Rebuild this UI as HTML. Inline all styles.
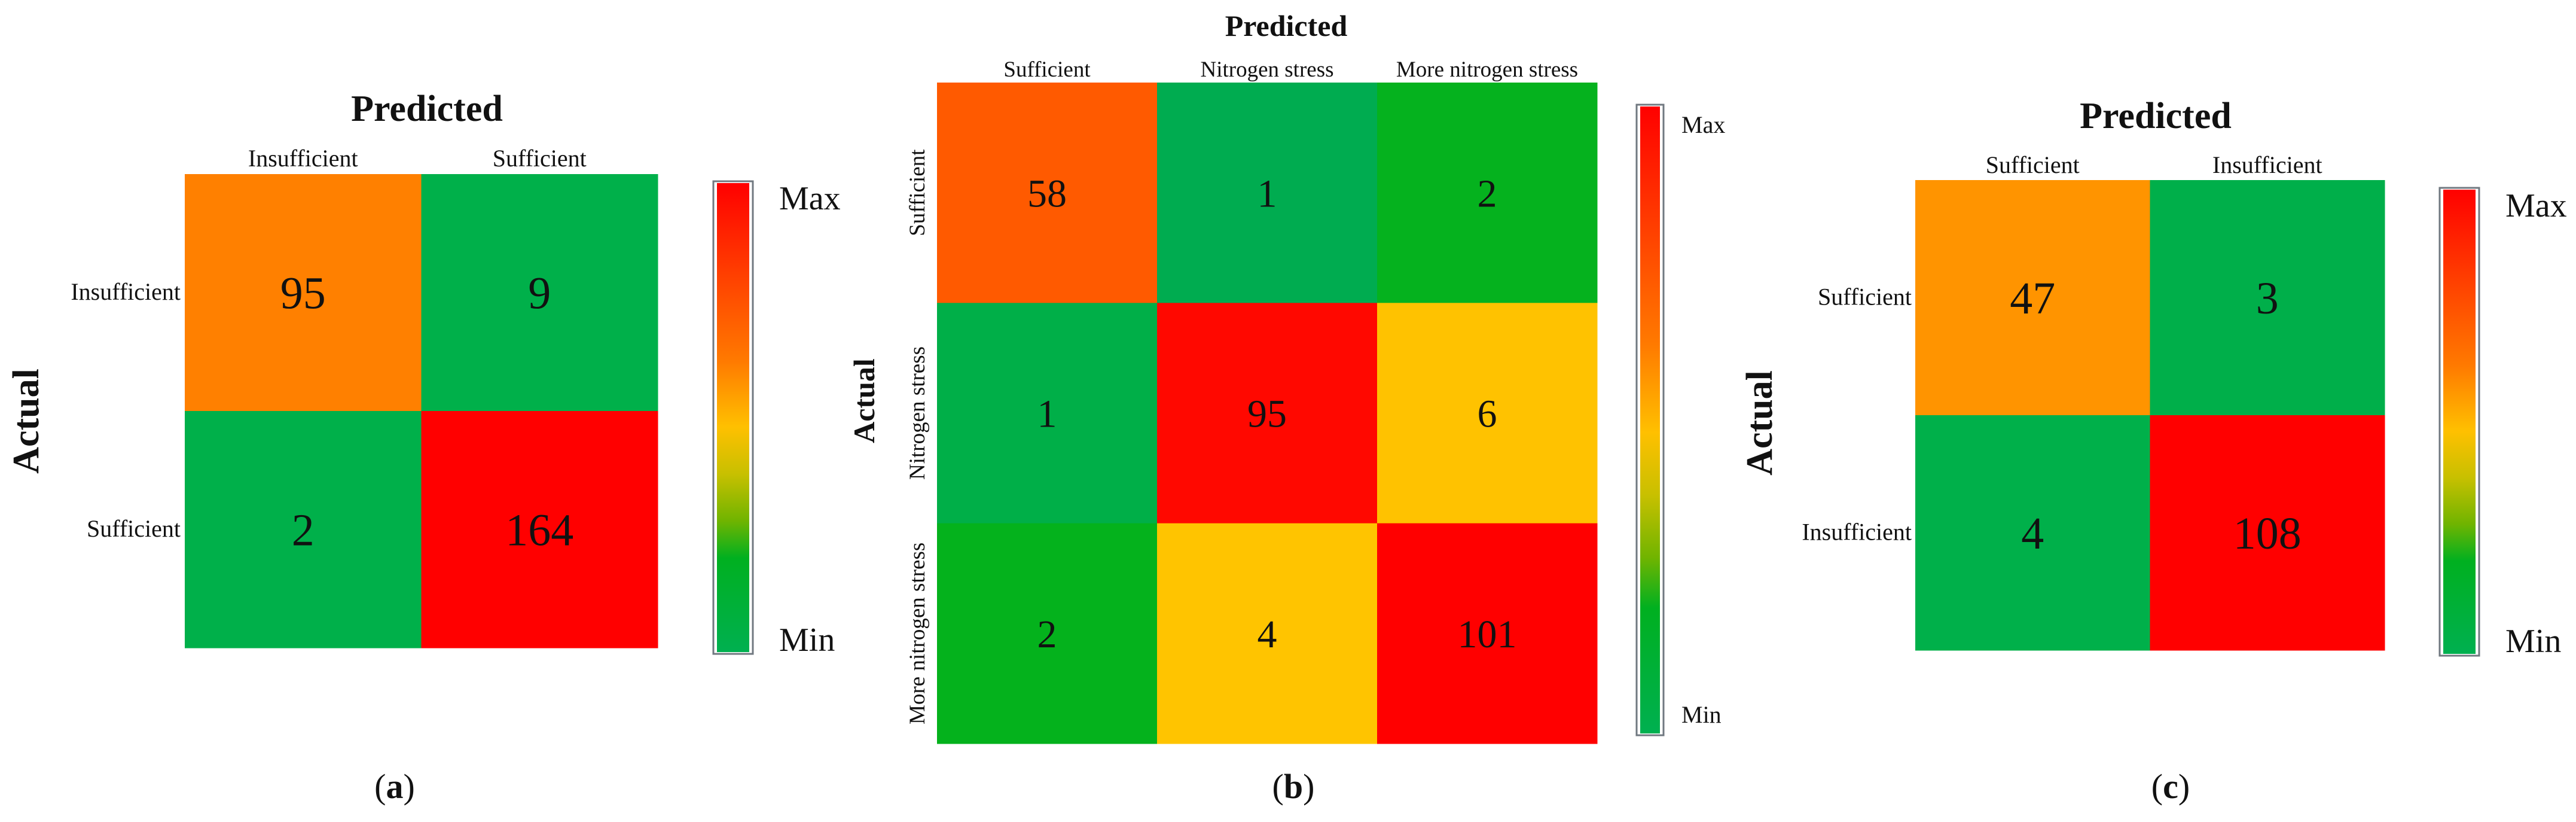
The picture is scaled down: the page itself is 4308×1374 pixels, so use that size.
<!DOCTYPE html>
<html><head><meta charset="utf-8"><style>
html,body{margin:0;padding:0;background:#fff;}
svg{display:block;font-family:"Liberation Serif",serif;}
</style></head><body>
<svg id="fig" width="4308" height="1374" viewBox="0 0 4308 1374" xmlns="http://www.w3.org/2000/svg">
<defs>
<linearGradient id="cbar" x1="0" y1="0" x2="0" y2="1">
<stop offset="0" stop-color="#ff0000"/>
<stop offset="0.18" stop-color="#ff3a00"/>
<stop offset="0.38" stop-color="#ff7a00"/>
<stop offset="0.52" stop-color="#ffc000"/>
<stop offset="0.62" stop-color="#c8c000"/>
<stop offset="0.72" stop-color="#70b400"/>
<stop offset="0.8" stop-color="#00b020"/>
<stop offset="1" stop-color="#00b050"/>
</linearGradient>
</defs>
</svg>
<script>
// Panel (a)
const aCats = ["Insufficient", "Sufficient"];
const aValues = [[95, 9], [2, 164]];
const aColors = [["#ff8000", "#00b04a"], ["#00b04a", "#ff0000"]];
// Panel (b)
const bCats = ["Sufficient", "Nitrogen stress", "More nitrogen stress"];
const bValues = [[58, 1, 2], [1, 95, 6], [2, 4, 101]];
const bColors = [["#ff5a00", "#00ac50", "#05b21e"], ["#00af48", "#ff0800", "#ffc200"], ["#04b21c", "#ffc400", "#ff0000"]];
// Panel (c)
const cCats = ["Sufficient", "Insufficient"];
const cValues = [[47, 3], [4, 108]];
const cColors = [["#ff9400", "#00af4a"], ["#00b04a", "#ff0000"]];

const NS = "http://www.w3.org/2000/svg";
const svg = document.getElementById("fig");
function mk(tag, attrs, parent, text) {
  const e = document.createElementNS(NS, tag);
  for (const k in attrs) e.setAttribute(k, attrs[k]);
  if (text !== undefined) e.textContent = text;
  (parent || svg).appendChild(e);
  return e;
}

function panel(cfg) {
  const g = mk("g", {});
  
  
  const n = cfg.cats.length;
  const cw = (cfg.x1 - cfg.x0) / n, ch = (cfg.y1 - cfg.y0) / n;
  const xAt = i => cfg.x0 + i * cw;
  const yAt = i => cfg.y0 + i * ch;
  for (let r = 0; r < n; r++) {
    for (let c = 0; c < n; c++) {
      const rect = mk("rect", {x: xAt(c), y: yAt(r), width: cw + 0.5, height: ch + 0.5, fill: cfg.colors[r][c]}, g);
      
      
      const t = mk("text", {x: xAt(c) + cw / 2, y: yAt(r) + ch / 2 + cfg.numSize * 0.35, "text-anchor": "middle", "font-size": cfg.numSize, fill: "#111"}, g, String(cfg.values[r][c]));
      
      
    }
  }
  for (let c = 0; c < n; c++) {
    const t = mk("text", {x: xAt(c) + cw / 2, y: cfg.colLabelY, "text-anchor": "middle", "font-size": cfg.labSize, fill: "#111"}, g, cfg.cats[c]);
    
    
  }
  for (let r = 0; r < n; r++) {
    let t;
    if (cfg.rotRows) {
      const cx = cfg.rowLabelX, cy = yAt(r) + ch / 2;
      t = mk("text", {x: cx, y: cy, "text-anchor": "middle", "font-size": cfg.labSize, fill: "#111", transform: "rotate(-90 " + cx + " " + cy + ")"}, g, cfg.cats[r]);
    } else {
      t = mk("text", {x: cfg.rowLabelX, y: yAt(r) + ch / 2 + cfg.labSize * 0.3, "text-anchor": "end", "font-size": cfg.labSize, fill: "#111"}, g, cfg.cats[r]);
    }
    
    
  }
  const p = mk("text", {x: cfg.predX, y: cfg.predY, "text-anchor": "middle", "font-size": cfg.titleSize, "font-weight": "bold", fill: "#111"}, g, "Predicted");
  
  
  const a = mk("text", {x: cfg.actX, y: cfg.actY, "text-anchor": "middle", "font-size": cfg.titleSize, "font-weight": "bold", fill: "#111", transform: "rotate(-90 " + cfg.actX + " " + cfg.actY + ")"}, g, "Actual");
  
  
  const cb = mk("rect", {x: cfg.cbX0, y: cfg.cbY0, width: cfg.cbX1 - cfg.cbX0, height: cfg.cbY1 - cfg.cbY0, fill: "#fff", stroke: "#707880", "stroke-width": 3}, g);
  
  
  const cbf = mk("rect", {x: cfg.cbX0 + 6, y: cfg.cbY0 + 3, width: cfg.cbX1 - cfg.cbX0 - 12, height: cfg.cbY1 - cfg.cbY0 - 6, fill: "url(#cbar)"}, g);
  
  
  const mx = mk("text", {x: cfg.cbLabX, y: cfg.maxY, "font-size": cfg.cbSize, fill: "#111"}, g, "Max");
  
  
  const mn = mk("text", {x: cfg.cbLabX, y: cfg.minY, "font-size": cfg.cbSize, fill: "#111"}, g, "Min");
  
  
  const cap = mk("text", {x: cfg.capX, y: 1334, "text-anchor": "middle", "font-size": 58, fill: "#111"}, g);
  
  
  mk("tspan", {}, cap, "(");
  mk("tspan", {"font-weight": "bold"}, cap, cfg.letter);
  mk("tspan", {}, cap, ")");
}

panel({name: "panel-a", cats: aCats, values: aValues, colors: aColors, letter: "a",
  x0: 309, x1: 1100, y0: 291, y1: 1083, numSize: 76, labSize: 40,
  colLabelY: 278, rowLabelX: 302, predX: 714, predY: 202, titleSize: 62,
  actX: 64, actY: 704, cbX0: 1193, cbX1: 1259, cbY0: 303, cbY1: 1093,
  cbLabX: 1303, maxY: 350, minY: 1088, cbSize: 56, capX: 660});
panel({name: "panel-b", cats: bCats, values: bValues, colors: bColors, letter: "b",
  x0: 1567, x1: 2671, y0: 138, y1: 1243, numSize: 66, labSize: 37,
  colLabelY: 128, rowLabelX: 1546, rotRows: true, predX: 2151, predY: 60, titleSize: 50,
  actX: 1462, actY: 670, cbX0: 2737, cbX1: 2782, cbY0: 175, cbY1: 1229,
  cbLabX: 2812, maxY: 222, minY: 1208, cbSize: 40, capX: 2163});
panel({name: "panel-c", cats: cCats, values: cValues, colors: cColors, letter: "c",
  x0: 3203, x1: 3988, y0: 301, y1: 1087, numSize: 76, labSize: 40,
  colLabelY: 289, rowLabelX: 3197, predX: 3605, predY: 214, titleSize: 62,
  actX: 2963, actY: 707, cbX0: 4080, cbX1: 4146, cbY0: 314, cbY1: 1096,
  cbLabX: 4190, maxY: 362, minY: 1090, cbSize: 56, capX: 3630});
</script>
</body></html>
